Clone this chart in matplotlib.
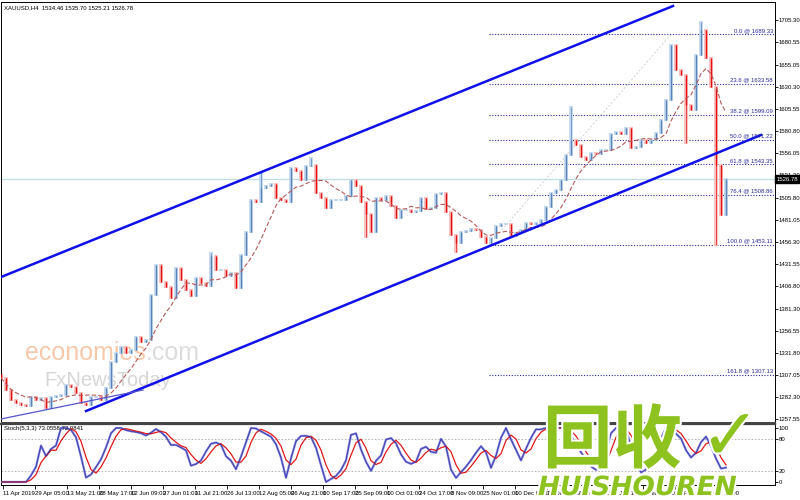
import numpy as np
import pandas as pd
import matplotlib
matplotlib.use("Agg")
import matplotlib.pyplot as plt
import matplotlib.patheffects as pe
from matplotlib import font_manager

# XAUUSD H4 closes, one sample per ~5 px of the original chart
closes = [1303.8, 1290.3, 1279.1, 1275.7, 1273.5, 1272.4, 1282.5, 1279.1, 1281.3, 1270.1,
          1282.5, 1283.6, 1284.7, 1296.0, 1293.7, 1287.0, 1275.7, 1273.5, 1282.5, 1282.5,
          1279.1, 1292.6, 1321.7, 1331.8, 1338.5, 1331.8, 1335.2, 1349.7, 1344.1, 1346.4,
          1396.9, 1430.5, 1411.4, 1405.8, 1393.5, 1427.1, 1413.7, 1402.5, 1395.7, 1415.9,
          1410.3, 1406.9, 1440.6, 1424.9, 1424.9, 1418.2, 1421.5, 1404.7, 1441.7, 1467.5,
          1503.4, 1501.2, 1516.9, 1519.1, 1521.4, 1505.7, 1503.4, 1501.2, 1539.3, 1535.9,
          1525.8, 1541.5, 1542.7, 1511.3, 1505.7, 1494.4, 1503.4, 1503.4, 1503.4, 1507.9,
          1525.8, 1519.1, 1501.2, 1487.7, 1467.5, 1505.7, 1503.4, 1507.9, 1496.7, 1483.2,
          1492.2, 1492.2, 1490.0, 1491.1, 1505.7, 1493.3, 1494.4, 1510.1, 1511.3, 1490.0,
          1464.2, 1455.2, 1467.5, 1468.6, 1470.9, 1469.8, 1461.9, 1455.2, 1460.8, 1474.2,
          1476.5, 1476.5, 1463.0, 1466.4, 1469.8, 1477.6, 1476.5, 1477.6, 1481.0, 1495.6,
          1511.3, 1514.6, 1525.8, 1553.9, 1570.7, 1565.1, 1551.6, 1548.3, 1556.1, 1555.0,
          1559.5, 1559.5, 1577.4, 1579.7, 1577.4, 1584.2, 1561.7, 1562.8, 1570.7, 1567.3,
          1570.7, 1578.6, 1593.1, 1615.6, 1677.3, 1649.2, 1643.6, 1610.0, 1604.4, 1666.0,
          1694.1, 1662.7, 1630.2, 1542.7, 1486.6, 1526.78]

# long wicks that stick out of the bodies
spike_idx = [42, 52, 62, 73, 91, 114, 137, 140, 143]
spike_price = [1444.0, 1534.8, 1550.7, 1461.9, 1445.0, 1607.7, 1567.7, 1703.0, 1453.1]

price_ticks = [1705.30, 1680.55, 1655.05, 1630.30, 1605.55, 1580.80, 1556.05, 1531.30,
               1505.80, 1481.05, 1456.30, 1431.55, 1406.80, 1381.30, 1356.55, 1331.80,
               1307.05, 1282.30, 1257.55]

fib_pct = [0.0, 23.6, 38.2, 50.0, 61.8, 76.4, 100.0, 161.8]
fib_price = [1689.33, 1633.58, 1599.09, 1571.22, 1543.35, 1508.86, 1453.11, 1307.13]

# trend lines: (x0, p0, x1, p1) in bar index / price
upper_channel = [0.0, 1417.0, 134.4, 1721.0]
lower_channel = [17.0, 1266.7, 152.0, 1576.3]
small_trend = [0.0, 1257.8, 28.4, 1290.3]
fib_diag = [97.6, 1453.11, 134.0, 1689.33]

date_labels = ["11 Apr 2019", "29 Apr 05:00", "13 May 21:00", "28 May 17:00", "12 Jun 09:00",
               "27 Jun 01:00", "11 Jul 21:00", "26 Jul 13:00", "12 Aug 05:00", "26 Aug 21:00",
               "10 Sep 17:00", "25 Sep 09:00", "10 Oct 01:00", "24 Oct 17:00", "8 Nov 09:00",
               "25 Nov 01:00", "10 Dec 01:00", "24 Dec 17:00", "8 Jan 09:00", "22 Jan 17:00",
               "6 Feb 01:00", "20 Feb 09:00", "5 Mar 12:00"]

last_price = 1526.78
title = "XAUUSD,H4  1534.46 1535.70 1525.21 1526.78"
stoch_title = "Stoch(5,3,3) 73.0558 72.0841"

installed = {f.name for f in font_manager.fontManager.ttflist}
small_font = 'Liberation Sans Narrow' if 'Liberation Sans Narrow' in installed else 'Liberation Sans'
plt.rcParams['font.family'] = [small_font, 'DejaVu Sans']
FS = 4.3
navy = '#2b2b9a'

fig = plt.figure(figsize=(8, 5), dpi=100, facecolor='white')
ax = fig.add_axes([0.00125, 0.156, 0.9675, 0.84])
axs = fig.add_axes([0.00125, 0.03, 0.9675, 0.122], sharex=ax)
ax.patch.set_visible(False)  # let the site watermark sit under the candles

c = np.array(closes)
x = np.arange(len(c))
o = np.r_[c[0] + 4, c[:-1]]
hi = np.maximum(o, c)
lo = np.minimum(o, c)
for i, p in zip(spike_idx, spike_price):
    hi[i] = max(hi[i], p)
    lo[i] = min(lo[i], p)
up = c >= o

# candles
ax.vlines(x, lo - 1.5, hi + 1.5, colors=np.where(up, '#c4d9ee', '#f9c0c0'), lw=2.8, zorder=2)
ax.vlines(x, np.minimum(o, c), np.maximum(o, c), colors=np.where(up, '#5a84b8', '#e31010'),
          lw=1.0, zorder=3)
ax.vlines(x, lo, hi, colors=np.where(up, '#5a84b8', '#e31010'), lw=0.5, zorder=3)

# moving average
ma = pd.Series(c).rolling(8, min_periods=1).mean()
ax.plot(x, ma, color='#b55a5a', lw=0.8, ls=(0, (4, 2)), zorder=4)

# current price line
ax.axhline(last_price, color='#bcdde6', lw=0.9, zorder=1)

# channels
for seg, lw, col in [(upper_channel, 1.8, '#1010e8'), (lower_channel, 1.8, '#1010e8'),
                     (small_trend, 0.9, '#5555cc')]:
    ax.plot([seg[0], seg[2]], [seg[1], seg[3]], color=col, lw=lw, zorder=5)
ax.plot([fib_diag[0], fib_diag[2]], [fib_diag[1], fib_diag[3]], color='#d0d0d0', lw=0.7,
        ls=(0, (2, 2)), zorder=1)

# fibonacci levels
xmax = 154.8
for pct, p in zip(fib_pct, fib_price):
    ax.plot([fib_diag[0], xmax], [p, p], color=navy, lw=0.8, ls=(0, (1, 1.5)), zorder=1)
    ax.text(xmax - 0.4, p + 1.5, f"{pct:.1f} @ {p:.2f}", fontsize=FS, color=navy,
            ha='right', va='bottom', zorder=6)

ax.set_xlim(0, xmax)
ax.set_ylim(1254.4, 1725.5)
ax.yaxis.tick_right()
ax.set_yticks(price_ticks)
ax.set_yticklabels([f"{t:.2f}" for t in price_ticks], fontsize=FS)
ax.tick_params(axis='y', length=2, width=0.6, pad=0.8)
ax.tick_params(axis='x', length=0, labelbottom=False)
for s in ax.spines.values():
    s.set_linewidth(0.7)
ax.spines['bottom'].set_color('#444444')

ax.text(0.004, 0.992, title, transform=ax.transAxes, fontsize=FS, va='top', ha='left')

# price box
ax.annotate(f"{last_price:.2f}", xy=(1.0, last_price), xycoords=('axes fraction', 'data'),
            xytext=(1.0, 0), textcoords='offset points', fontsize=FS, color='white',
            va='center', ha='left', annotation_clip=False, zorder=10,
            bbox=dict(boxstyle='square,pad=0.2', fc='black', ec='black'))

# stochastic
sc = pd.Series(c)
hh = pd.Series(hi).rolling(5, min_periods=1).max()
ll = pd.Series(lo).rolling(5, min_periods=1).min()
k = 100 * (sc - ll).rolling(3, min_periods=1).sum() / (hh - ll).rolling(3, min_periods=1).sum()
d = k.rolling(3, min_periods=1).mean()
axs.plot(x, k, color='#8080dd', lw=1.6, zorder=3)
axs.plot(x, d, color='#e01818', lw=0.9, zorder=4)
axs.plot(x, k, color='#3030a0', lw=0.5, zorder=5)
for lv in (20, 80):
    axs.axhline(lv, color='#aaaaaa', lw=0.6, ls=(0, (2, 2)))
axs.set_ylim(-5.6, 107.4)
axs.yaxis.tick_right()
axs.set_yticks([0, 20, 80, 100])
axs.set_yticklabels(['0', '20', '80', '100'], fontsize=FS)
axs.tick_params(axis='y', length=2, width=0.6, pad=0.8)
axs.text(0.004, 0.96, stoch_title, transform=axs.transAxes, fontsize=FS, va='top', ha='left')
for s in axs.spines.values():
    s.set_linewidth(0.7)
axs.spines['top'].set_linewidth(1.6)
axs.spines['top'].set_color('#444444')

tick_pos = 0.4 + 6.4 * np.arange(len(date_labels))
axs.set_xticks(tick_pos)
axs.set_xticklabels(date_labels, fontsize=FS, ha='left')
axs.tick_params(axis='x', length=3, width=0.6, pad=1.5)

# watermarks
fig.text(25 / 800, 1 - 353 / 500, "economies", fontsize=18, color='#f7c8aa',
         family='Liberation Sans', va='center', ha='left', zorder=-1)
fig.text(146 / 800, 1 - 353 / 500, ".com", fontsize=18, color='#dcdcdc',
         family='Liberation Sans', va='center', ha='left', zorder=-1)
fig.text(44 / 800, 1 - 381 / 500, "FxNewsToday", fontsize=14.5, color='#d6d6d6',
         family='Liberation Sans', va='center', ha='left', zorder=-1)

green = '#8dc21f'
stroke = [pe.withStroke(linewidth=3, foreground='white')]
fig.text(543 / 800, 1 - 442 / 500, "回收", fontsize=50, color=green, weight='bold',
         family=['Noto Sans CJK SC', 'DejaVu Sans'], va='center', ha='left', path_effects=stroke)
fig.text(700 / 800, 1 - 440 / 500, "✓", fontsize=52, color=green, weight='bold',
         family='DejaVu Sans', va='center', ha='left', path_effects=stroke)
fig.text(538 / 800, 1 - 488 / 500, "HUISHOUREN", fontsize=19, color=green, weight='bold',
         style='italic', family='DejaVu Sans', va='center', ha='left', path_effects=stroke)

fig.savefig("out.png", dpi=100, facecolor='white')
